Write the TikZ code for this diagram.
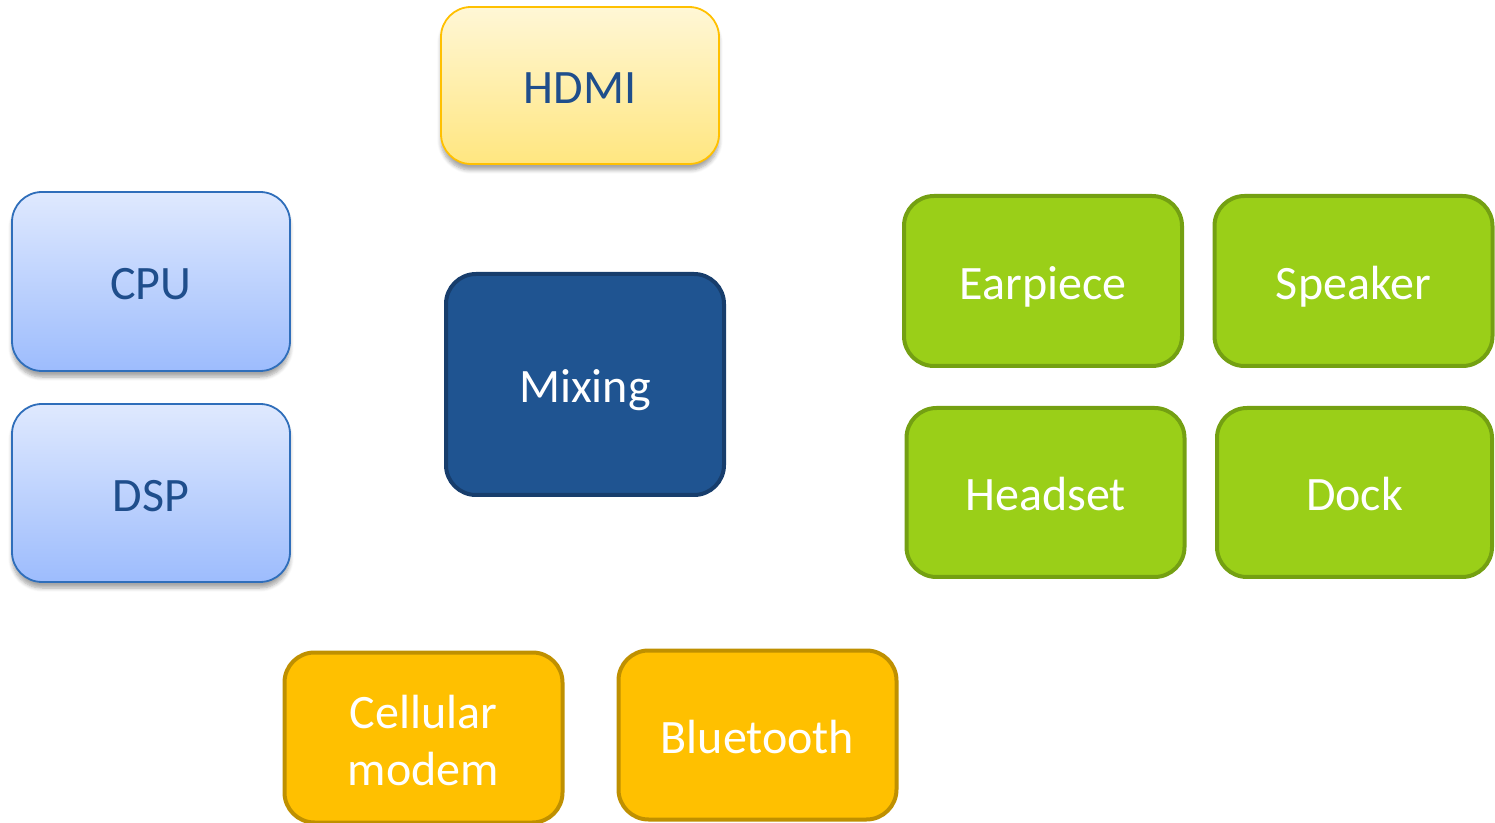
\documentclass[tikz,border=0pt]{standalone}
\usepackage{fontspec}
\setmainfont{Carlito}
\usetikzlibrary{shadows.blur}
\definecolor{txtblue}{HTML}{1F4E8C}
\definecolor{hdmitop}{HTML}{FFF7D6}
\definecolor{hdmibot}{HTML}{FFE680}
\definecolor{hdmiline}{HTML}{FFC000}
\definecolor{cputop}{HTML}{DFE9FE}
\definecolor{cpubot}{HTML}{9DBCFD}
\definecolor{cpuline}{HTML}{2F6EBA}
\definecolor{mixfill}{HTML}{1F5491}
\definecolor{mixline}{HTML}{173D6C}
\definecolor{grnfill}{HTML}{9ACF18}
\definecolor{grnline}{HTML}{74A012}
\definecolor{orgfill}{HTML}{FFC000}
\definecolor{orgline}{HTML}{BF9000}
\tikzset{
  blk/.style={rounded corners=15pt, minimum width=139pt, align=center,
    font=\fontsize{24}{28.5}\selectfont, inner sep=0pt},
  oneline/.style={text height=18.5pt, text depth=0pt},
  softbox/.style={blk, oneline, draw, line width=0.9pt,
    blur shadow={shadow xshift=0pt, shadow yshift=-3pt, shadow blur steps=6, shadow opacity=35}},
  hdmibox/.style={softbox, draw=hdmiline, top color=hdmitop, bottom color=hdmibot, text=txtblue},
  cpubox/.style={softbox, draw=cpuline, top color=cputop, bottom color=cpubot, text=txtblue},
  mixbox/.style={blk, draw=mixline, fill=mixfill, line width=2pt, text=white},
  grnbox/.style={blk, draw=grnline, fill=grnfill, line width=2pt, text=white},
  orgbox/.style={blk, draw=orgline, fill=orgfill, line width=2pt, text=white}
}
\begin{document}
\begin{tikzpicture}[x=0.5pt, y=-0.5pt]
\useasboundingbox (0,0) rectangle (1495,823);
\node[hdmibox, minimum width=139pt, minimum height=78.5pt] (hdmi) at (580,85.5) {HDMI};
\node[cpubox, minimum height=89.5pt] (cpu) at (151,281.5) {CPU};
\node[cpubox, minimum height=89pt] (dsp) at (151,493) {DSP};
\node[mixbox, oneline, minimum width=139pt, minimum height=110.5pt] (mix) at (585,384.5) {Mixing};
\node[grnbox, oneline, minimum height=85pt] (ear) at (1043,281) {Earpiece};
\node[grnbox, oneline, minimum height=85pt] (spk) at (1353.5,281) {Speaker};
\node[grnbox, oneline, minimum height=84.5pt] (hds) at (1045.5,492.5) {Headset};
\node[grnbox, oneline, minimum width=137.5pt, minimum height=84.5pt] (dock) at (1354.5,492.5) {Dock};
\node[orgbox, minimum height=85pt, text height=48pt, text depth=0pt] (cell) at (423.5,737.5) {Cellular\\modem};
\node[orgbox, oneline, minimum height=84.5pt] (bt) at (757.5,735) {Bluetooth};
\end{tikzpicture}
\end{document}
